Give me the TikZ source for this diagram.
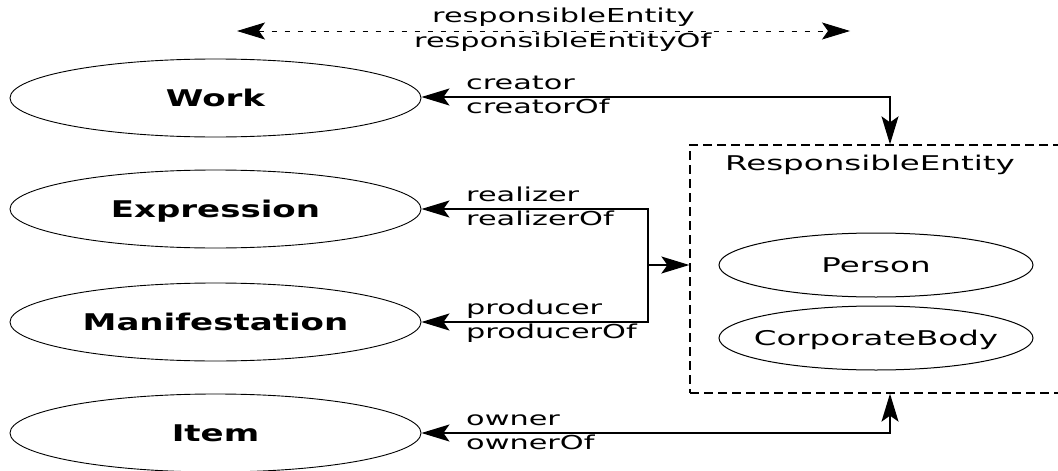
\documentclass[tikz,border=0pt]{standalone}
\usepackage{fontspec}
\usetikzlibrary{arrows.meta,shapes.geometric}
\newfontfamily\labf[FakeStretch=1.58]{DejaVu Sans}
\newfontfamily\subf[FakeStretch=1.6]{DejaVu Sans}
\newfontfamily\entf[FakeStretch=1.48]{DejaVu Sans}
\begin{document}
\begin{tikzpicture}[x=1pt,y=-1pt,
  tipx/.tip={Stealth[length=28pt,width=17pt,inset=6pt]},
  ent/.style={ellipse,draw,line width=0.9pt,minimum width=411pt,minimum height=78pt,inner sep=0pt,
    text height=16.5pt,text depth=0pt,font=\entf\bfseries\fontsize{23}{25}\selectfont},
  sub/.style={ellipse,draw,line width=1pt,minimum width=314pt,minimum height=64pt,inner sep=0pt,
    text height=14.6pt,text depth=0pt,font=\subf\fontsize{20.3}{22}\selectfont},
  lbl/.style={anchor=base west,inner sep=0pt,font=\labf\fontsize{19.2}{21}\selectfont},
  boxlbl/.style={anchor=base west,inner sep=0pt,font=\subf\fontsize{20.3}{22}\selectfont},
  conn/.style={line width=1.5pt,tipx-tipx},
  oneway/.style={line width=1.5pt,-tipx},
  topline/.style={line width=0.9pt,dash pattern=on 5pt off 8pt,tipx-tipx},
  boxstyle/.style={draw,line width=1.3pt,dash pattern=on 9pt off 5pt,minimum width=384pt,minimum height=248pt,inner sep=0pt}]
\useasboundingbox (0,0) rectangle (1058,471);

% entities
\node[ent] (work) at (215.5,98) {Work};
\node[ent] (expr) at (215.5,209) {Expression};
\node[ent] (man) at (215.5,322) {Manifestation};
\node[ent] (item) at (215.5,433) {Item};

% responsible entity box
\node[boxstyle] (re) at (882,269) {};
\node[boxlbl] (retitle) at (725,170) {ResponsibleEntity};
\node[sub] (person) at (876,265) {\makebox[0pt]{Person}};
\node[sub] (corp) at (876,338) {\makebox[0pt]{CorporateBody}};

% top legend arrow
\coordinate (ta) at (237,31);
\coordinate (tb) at (850,31);
\draw[topline] (ta) -- (tb);
\node[lbl] (t1) at (432,23) {responsibleEntity};
\node[lbl] (t2) at (414,47) {responsibleEntityOf};

% creator
\coordinate (cx) at (890,97);
\draw[conn] (work.east |- cx) -- (cx) -- (cx |- re.north);
\node[lbl] (l1) at (466,89) {creator};
\node[lbl] (l2) at (466,113) {creatorOf};

% realizer / producer
\coordinate (j1) at (648,209);
\coordinate (j2) at (648,322);
\coordinate (j3) at (648,265);
\draw[conn] (expr.east) -- (j1) -- (j2) -- (man.east);
\draw[oneway] (j3) -- (re.west |- j3);
\node[lbl] (l3) at (466,201) {realizer};
\node[lbl] (l4) at (466,225) {realizerOf};
\node[lbl] (l5) at (466,314) {producer};
\node[lbl] (l6) at (466,338) {producerOf};

% owner
\coordinate (ox) at (890,433);
\draw[conn] (item.east) -- (ox) -- (ox |- re.south);
\node[lbl] (l7) at (466,425) {owner};
\node[lbl] (l8) at (466,449) {ownerOf};
\end{tikzpicture}
\end{document}
